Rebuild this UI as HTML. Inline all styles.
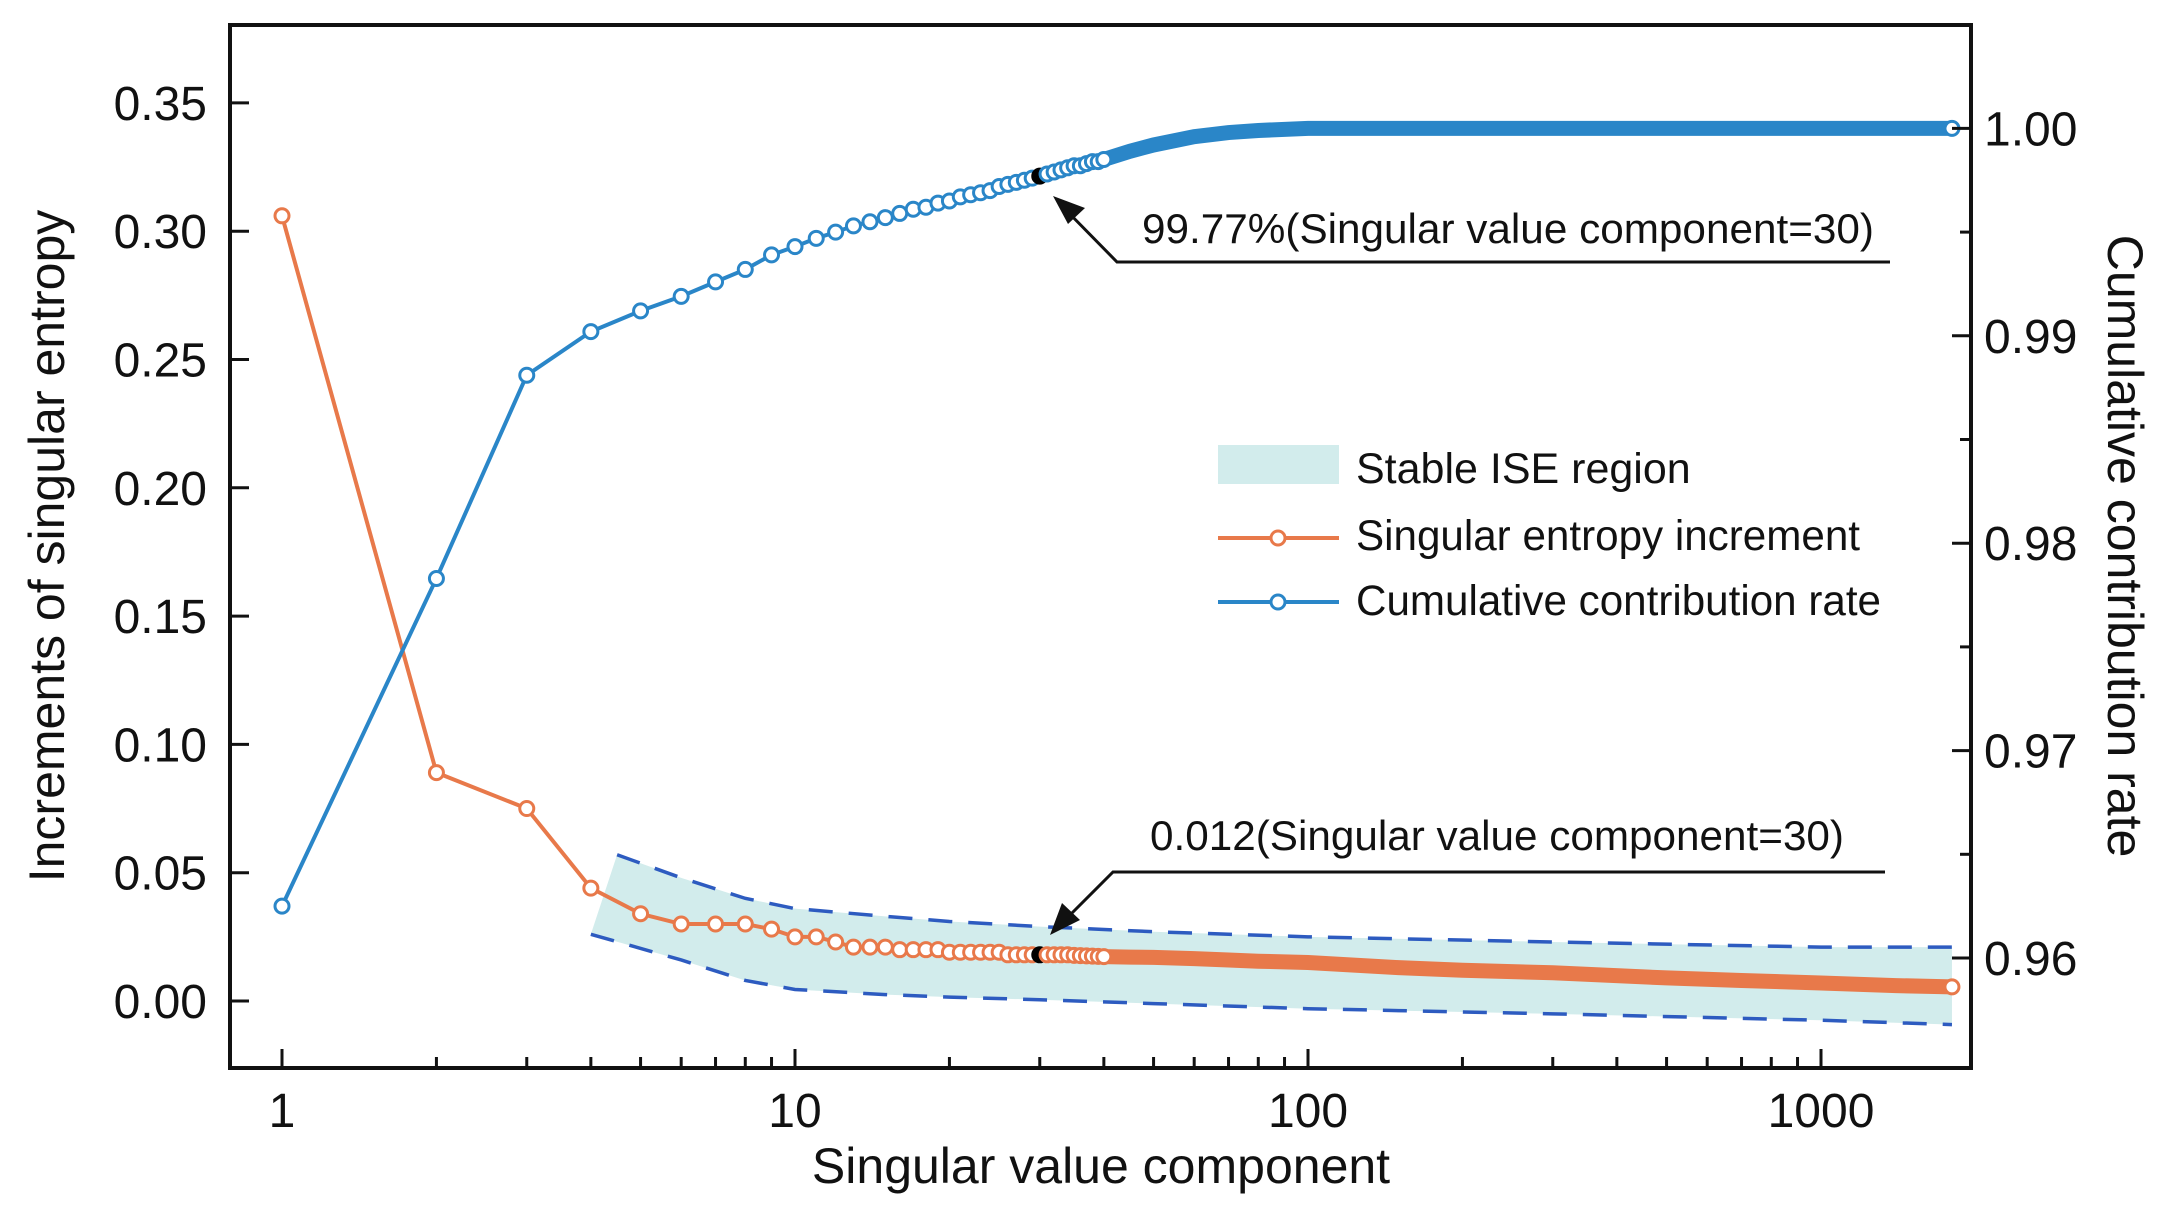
<!DOCTYPE html>
<html><head><meta charset="utf-8"><style>
html,body{margin:0;padding:0;background:#fff}
svg{display:block}
text{font-family:"Liberation Sans",Arial,sans-serif;fill:#111}
</style></head><body>
<svg id="chart" width="2167" height="1218" viewBox="0 0 2167 1218" xmlns="http://www.w3.org/2000/svg">
<g id="band"></g>
<g id="series"></g>
<g id="axes"></g>
<g>
  <polyline points="1890,262 1117,262 1062,206" fill="none" stroke="#111" stroke-width="3"/>
  <polygon points="1053,196 1085,208 1068,224" fill="#111"/>
  <text x="1142" y="243" font-size="42" textLength="732" lengthAdjust="spacingAndGlyphs">99.77%(Singular value component=30)</text>
</g>
<g>
  <polyline points="1885,872 1113,872 1060,925" fill="none" stroke="#111" stroke-width="3"/>
  <polygon points="1050,935 1062,903 1080,920" fill="#111"/>
  <text x="1150" y="850" font-size="42" textLength="694" lengthAdjust="spacingAndGlyphs">0.012(Singular value component=30)</text>
</g>
<g>
  <rect x="1218" y="445" width="121" height="39" fill="#d2ecec"/>
  <text x="1356" y="483" font-size="43">Stable ISE region</text>
  <line x1="1218" y1="538" x2="1339" y2="538" stroke="#e8794a" stroke-width="4"/>
  <circle cx="1278" cy="538" r="7" fill="#fff" stroke="#e8794a" stroke-width="3"/>
  <text x="1356" y="550" font-size="43" textLength="504" lengthAdjust="spacingAndGlyphs">Singular entropy increment</text>
  <line x1="1218" y1="602" x2="1339" y2="602" stroke="#2a86c8" stroke-width="4"/>
  <circle cx="1278" cy="602" r="7" fill="#fff" stroke="#2a86c8" stroke-width="3"/>
  <text x="1356" y="615" font-size="43" textLength="525" lengthAdjust="spacingAndGlyphs">Cumulative contribution rate</text>
</g>
<text x="1101" y="1183" font-size="50" text-anchor="middle">Singular value component</text>
<text transform="translate(64,546) rotate(-90)" font-size="50" text-anchor="middle">Increments of singular entropy</text>
<text transform="translate(2108,546) rotate(90)" font-size="50" text-anchor="middle">Cumulative contribution rate</text>
</svg>
<script>
const components = [1,2,3,4,5,6,7,8,9,10,11,12,13,14,15,16,17,18,19,20,21,22,23,24,25,26,27,28,29,30,31,32,33,34,35,36,37,38,39,40,45,50,60,70,80,100,150,200,300,500,700,1000,1400,1800];
const entropyIncrement = [0.306,0.089,0.075,0.044,0.034,0.030,0.030,0.030,0.028,0.025,0.025,0.023,0.021,0.021,0.021,0.020,0.020,0.020,0.020,0.019,0.019,0.019,0.019,0.019,0.019,0.018,0.018,0.018,0.018,0.018,0.018,0.018,0.018,0.018,0.0178,0.0177,0.0176,0.0175,0.0174,0.0173,0.0171,0.017,0.0165,0.016,0.0155,0.015,0.013,0.012,0.011,0.009,0.008,0.007,0.006,0.0055];
const cumulativeRate = [0.9625,0.9783,0.9881,0.9902,0.9912,0.9919,0.9926,0.9932,0.9939,0.9943,0.9947,0.9950,0.9953,0.9955,0.9957,0.9959,0.9961,0.9962,0.9964,0.9965,0.9967,0.9968,0.9969,0.9970,0.9972,0.9973,0.9974,0.9975,0.9976,0.9977,0.9978,0.9979,0.9980,0.9981,0.9982,0.9982,0.9983,0.9984,0.9984,0.9985,0.9989,0.9992,0.9996,0.9998,0.9999,1.0,1.0,1.0,1.0,1.0,1.0,1.0,1.0,1.0];
const bandX = [4.5,6,8,10,15,20,30,50,100,300,1000,1800];
const bandUpper = [0.057,0.048,0.040,0.036,0.033,0.031,0.029,0.027,0.025,0.023,0.021,0.021];
const bandLower = [0.026,0.016,0.008,0.0045,0.0025,0.0015,0.0005,-0.001,-0.003,-0.005,-0.0075,-0.0092];
const leftTicks = [0,0.05,0.10,0.15,0.20,0.25,0.30,0.35];
const rightTicks = [0.96,0.97,0.98,0.99,1.00];
const xTicks = [1,10,100,1000];
const highlight = 30;

const NS='http://www.w3.org/2000/svg';
const X0=230,X1=1971,Y0=25,Y1=1068;
const xs=n=>282+Math.log10(n)*513;
const yl=v=>1001-v*2566;
const yr=v=>958-(v-0.96)*20740;
function mk(tag,attrs,parent){const e=document.createElementNS(NS,tag);for(const k in attrs)e.setAttribute(k,attrs[k]);parent.appendChild(e);return e;}
const band=document.getElementById('band'),series=document.getElementById('series'),axes=document.getElementById('axes');

let d='';
bandX.forEach((x,i)=>{d+=(i?'L':'M')+xs(x)+','+yl(bandUpper[i]);});
for(let i=bandX.length-1;i>=0;i--){const x=i===0?4.0:bandX[i];d+='L'+xs(x)+','+yl(bandLower[i]);}
const bp=mk('path',{d:d+'Z',fill:'#d2ecec'},band);


const up=mk('polyline',{points:bandX.map((x,i)=>xs(x)+','+yl(bandUpper[i])).join(' '),fill:'none',stroke:'#2d5bc0','stroke-width':3.5,'stroke-dasharray':'24,16'},band);


const lo=mk('polyline',{points:bandX.map((x,i)=>xs(i===0?4.0:x)+','+yl(bandLower[i])).join(' '),fill:'none',stroke:'#2d5bc0','stroke-width':3.5,'stroke-dasharray':'24,16'},band);



function drawSeries(vals,yf,color,name){
  const g=mk('g',{},series);
  
  
  mk('polyline',{points:components.map((n,i)=>xs(n)+','+yf(vals[i])).join(' '),fill:'none',stroke:color,'stroke-width':4},g);
  const dense=components.map((n,i)=>n>=30?xs(n)+','+yf(vals[i]):null).filter(Boolean).join(' ');
  mk('polyline',{points:dense,fill:'none',stroke:color,'stroke-width':15,'stroke-linecap':'round'},g);
  components.forEach((n,i)=>{
    if(n>40&&n<1800)return;
    const c=mk('circle',{cx:xs(n),cy:yf(vals[i]),r:7,fill:'#fff',stroke:n===highlight?'#000':color,'stroke-width':3},g);
    if(n===highlight)c.setAttribute('fill','#000');
    
    
  });
}
drawSeries(entropyIncrement,yl,'#e8794a','entropy-increment-series');
drawSeries(cumulativeRate,yr,'#2a86c8','cumulative-rate-series');

const fr=mk('rect',{x:X0,y:Y0,width:X1-X0,height:Y1-Y0,fill:'none',stroke:'#111','stroke-width':4},axes);


leftTicks.forEach(v=>{
  mk('line',{x1:X0,x2:X0+19,y1:yl(v),y2:yl(v),stroke:'#111','stroke-width':3},axes);
  const t=mk('text',{x:207,y:yl(v)+17,'font-size':48,'text-anchor':'end'},axes);
  t.textContent=v.toFixed(2);
  
  
});
rightTicks.forEach((v,i)=>{
  mk('line',{x1:X1-19,x2:X1,y1:yr(v),y2:yr(v),stroke:'#111','stroke-width':3},axes);
  if(i<rightTicks.length-1){const m=v+0.005;mk('line',{x1:X1-11,x2:X1,y1:yr(m),y2:yr(m),stroke:'#111','stroke-width':3},axes);}
  const t=mk('text',{x:1984,y:yr(v)+17,'font-size':48},axes);
  t.textContent=v.toFixed(2);
  
  
});
xTicks.forEach(v=>{
  mk('line',{x1:xs(v),x2:xs(v),y1:Y1,y2:Y1-19,stroke:'#111','stroke-width':3},axes);
  for(let k=2;k<10;k++){const m=v*k;if(xs(m)<X1-3)mk('line',{x1:xs(m),x2:xs(m),y1:Y1,y2:Y1-11,stroke:'#111','stroke-width':3},axes);}
  const t=mk('text',{x:xs(v),y:1127,'font-size':48,'text-anchor':'middle'},axes);
  t.textContent=String(v);
  
  
});
</script>
</body></html>
